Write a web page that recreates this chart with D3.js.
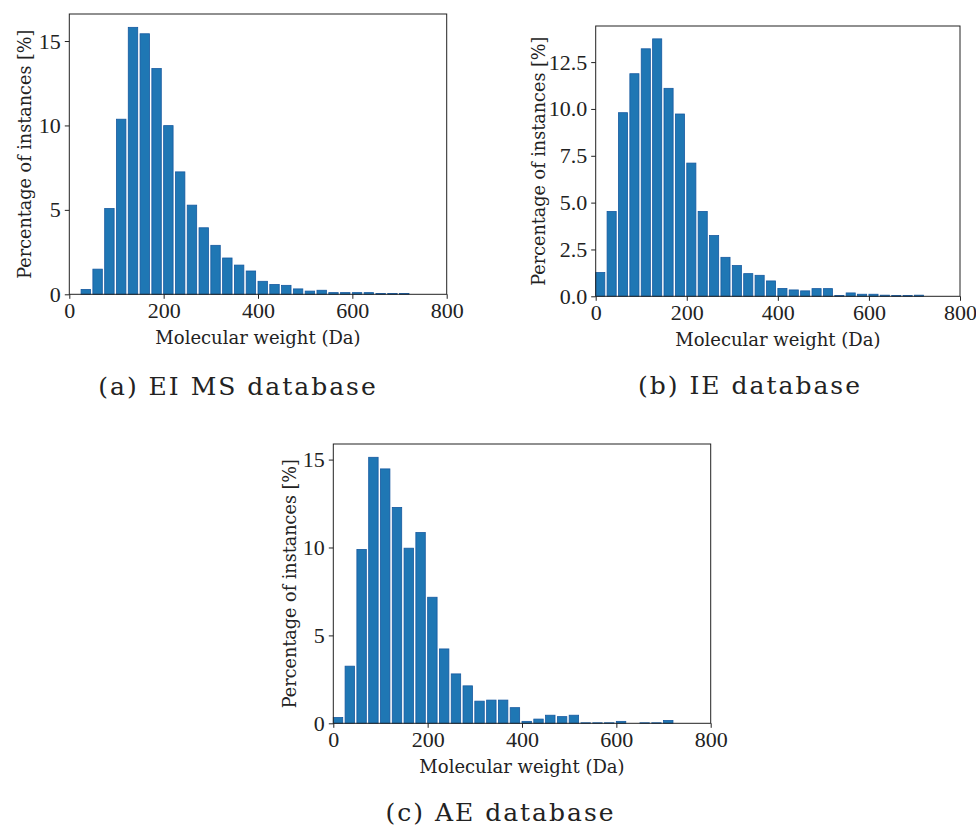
<!DOCTYPE html>
<html>
<head>
<meta charset="utf-8">
<script src="https://cdn.jsdelivr.net/npm/d3@7"></script>
<style>
  body { margin: 0; background: #fff; }
  text { font-family: "DejaVu Serif", "Liberation Serif", serif; fill: #222; }
</style>
</head>
<body>
<div id="chart"></div>
<script>
"use strict"

// bin left edges (Da), 25 Da bins
var binStarts = [0, 25, 50, 75, 100, 125, 150, 175, 200, 225, 250, 275, 300, 325, 350,
  375, 400, 425, 450, 475, 500, 525, 550, 575, 600, 625, 650, 675, 700];

// percentage of instances per bin
var eiMsValues = [0, 0.29, 1.49, 5.08, 10.37, 15.81, 15.43, 13.37, 9.99, 7.25, 5.28, 3.94,
  2.90, 2.15, 1.73, 1.38, 0.77, 0.58, 0.53, 0.32, 0.19, 0.24, 0.10, 0.10, 0.10, 0.10,
  0.05, 0.05, 0.05];
var ieValues = [1.27, 4.53, 9.80, 11.88, 13.21, 13.74, 11.10, 9.73, 7.11, 4.53, 3.24, 2.08,
  1.64, 1.21, 1.12, 0.82, 0.42, 0.34, 0.29, 0.41, 0.41, 0.04, 0.18, 0.11, 0.11, 0.06,
  0.04, 0.04, 0.06];
var aeValues = [0.33, 3.25, 9.89, 15.13, 14.47, 12.28, 9.96, 10.85, 7.17, 4.23, 2.81, 2.13,
  1.26, 1.32, 1.32, 0.89, 0.11, 0.24, 0.46, 0.38, 0.46, 0.03, 0.03, 0.03, 0.11, 0,
  0.03, 0.03, 0.16];

var xTicks = [0, 200, 400, 600, 800];
var yTicksA = [0, 5, 10, 15];
var yTicksB = [0, 2.5, 5, 7.5, 10, 12.5];
var yTicksC = [0, 5, 10, 15];
var captions = ["(a) EI MS database", "(b) IE database", "(c) AE database"];

var barWidth = 20;

var width = 976, height = 831;

var svg = d3.select("#chart").append("svg")
  .attr("width", width)
  .attr("height", height);

var panels = [
  {values: eiMsValues, yTicks: yTicksA, fmt: d3.format("d"), caption: captions[0],
    left: 69.3, right: 446.7, top: 14, bottom: 294.3, labelX: 38, capX: 238, capY: 395},
  {values: ieValues, yTicks: yTicksB, fmt: d3.format(".1f"), caption: captions[1],
    left: 595.7, right: 960, top: 26, bottom: 296.3, labelX: 51, capX: 750, capY: 394},
  {values: aeValues, yTicks: yTicksC, fmt: d3.format("d"), caption: captions[2],
    left: 333.3, right: 710.7, top: 444, bottom: 723.3, labelX: 37, capX: 500.5, capY: 821}
];

panels.forEach(drawPanel);

function drawPanel(p){
  var x = d3.scaleLinear().domain([0, 800]).range([p.left, p.right]);
  var y = d3.scaleLinear().domain([0, d3.max(p.values) * 1.05]).range([p.bottom, p.top]);

  var g = svg.append("g");

  var bars = binStarts.map(function(b, i){ return {x: b, v: p.values[i]}; })
    .filter(function(d){ return d.v > 0; });

  g.selectAll("rect.bar")
    .data(bars)
    .enter().append("rect")
    .attr("class", "bar")
    .attr("x", function(d){ return x(d.x); })
    .attr("width", x(barWidth) - x(0))
    .attr("y", function(d){ return y(d.v); })
    .attr("height", function(d){ return y(0) - y(d.v); })
    .attr("fill", "#1f77b4")
    .attr("stroke", "#1659a0")
    .attr("stroke-width", 0.8);

  // frame
  g.append("rect")
    .attr("x", p.left)
    .attr("y", p.top)
    .attr("width", p.right - p.left)
    .attr("height", p.bottom - p.top)
    .attr("fill", "none")
    .attr("stroke", "#222")
    .attr("stroke-width", 1);

  var xAxis = g.append("g")
    .attr("transform", "translate(0," + p.bottom + ")")
    .call(d3.axisBottom(x).tickValues(xTicks).tickSize(4.5).tickPadding(4));
  var yAxis = g.append("g")
    .attr("transform", "translate(" + p.left + ",0)")
    .call(d3.axisLeft(y).tickValues(p.yTicks).tickFormat(p.fmt).tickSize(4.5).tickPadding(4));

  [xAxis, yAxis].forEach(function(a){
    a.select(".domain").remove();
    a.selectAll("line").attr("stroke", "#222");
    a.selectAll("text")
      .style("font-family", "'Liberation Serif', 'DejaVu Serif', serif")
      .style("font-size", "22px")
      .attr("fill", "#222");
  });

  g.append("text")
    .attr("x", (p.left + p.right) / 2)
    .attr("y", p.bottom + 49.5)
    .attr("text-anchor", "middle")
    .style("font-size", "18px")
    .text("Molecular weight (Da)");

  g.append("text")
    .attr("transform", "translate(" + (p.left - p.labelX) + "," + ((p.top + p.bottom) / 2) + ") rotate(-90)")
    .attr("text-anchor", "middle")
    .style("font-size", "17.6px")
    .text("Percentage of instances [%]");

  svg.append("text")
    .attr("x", p.capX)
    .attr("y", p.capY)
    .attr("text-anchor", "middle")
    .style("font-size", "25px")
    .style("letter-spacing", "2px")
    .text(p.caption);
}
</script>
</body>
</html>
